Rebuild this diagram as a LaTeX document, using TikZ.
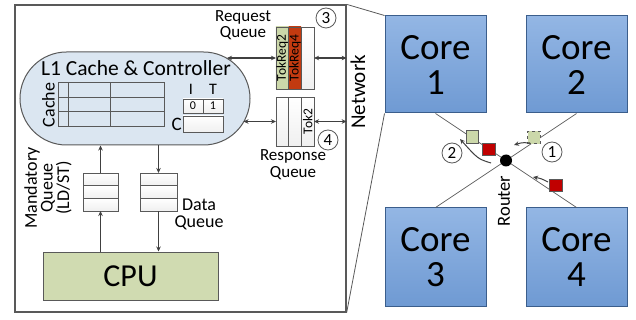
\documentclass[tikz,border=0pt]{standalone}
\usepackage{fontspec}
\setmainfont{Carlito}
\usetikzlibrary{arrows.meta,shapes.misc,calc}

\definecolor{edgegray}{HTML}{595959}
\definecolor{arrgray}{HTML}{404040}
\definecolor{coreTop}{HTML}{93B6E4}
\definecolor{coreBot}{HTML}{6F9AD3}
\definecolor{coreEdge}{HTML}{3B5E8C}
\definecolor{lonefill}{HTML}{DBE6F1}
\definecolor{cpufill}{HTML}{D0DBB1}
\definecolor{tokgreen}{HTML}{CCD8AA}
\definecolor{tokred}{HTML}{C23A10}
\definecolor{pktred}{HTML}{C00000}

\tikzset{
  fs/.style={font=\fontsize{#1}{#1}\selectfont},
  cell/.style={draw=edgegray, line width=0.8pt, top color=white, bottom color=gray!12,
               inner sep=0pt, outer sep=0pt, minimum width=#1},
  arr/.style={draw=arrgray, line width=1.2pt, -{Stealth[length=5pt,width=4.5pt]}},
  dbl/.style={draw=arrgray, line width=1.2pt, {Stealth[length=5pt,width=4.5pt]}-{Stealth[length=5pt,width=4.5pt]}},
  corebox/.style={draw=coreEdge, line width=1pt, top color=coreTop, bottom color=coreBot,
                  minimum width=101pt, minimum height=97pt, inner sep=0pt, align=center,
                  font=\fontsize{37}{35}\selectfont},
  pkt/.style={draw=edgegray, line width=0.6pt, minimum size=12.5pt, inner sep=0pt},
  num/.style={circle, draw=edgegray, line width=0.8pt, fill=white, minimum size=20pt,
              inner sep=0pt, font=\fontsize{17}{17}\selectfont},
  thin/.style={draw=edgegray, line width=0.8pt},
  twoline/.style={align=center, inner sep=0pt, font=\fontsize{17}{16.5}\selectfont},
}

\begin{document}
\begin{tikzpicture}[x=1pt,y=-1pt]
\useasboundingbox (0,0) rectangle (636,320);

% ---------------- one tile ----------------
\node[draw=edgegray, line width=1.3pt, minimum width=331pt, minimum height=307pt,
      inner sep=0pt] (chip) at (180.5,158.5) {};

% L1 cache and controller
\node[rounded rectangle, draw=edgegray, line width=1pt, fill=lonefill,
      minimum width=230pt, minimum height=93pt, inner sep=0pt] (l1) at (135,98.5) {};
\node[fs=21.5] (l1txt) at (136,68.5) {L1 Cache \& Controller};

% cache array
\node[draw=edgegray, line width=1pt, minimum width=106pt, minimum height=44pt,
      inner sep=0pt] (ctab) at (111,105) {};
\draw[thin, line width=1pt] (58,98) -- (164,98) (58,112) -- (164,112)
      (68,83) -- (68,127) (110,83) -- (110,127);
\node[fs=18, rotate=90] (ctablbl) at (48.5,105) {Cache};

% I / T bits and C field
\node[cell=20pt, minimum height=14pt, fs=12] (bitI) at (193,106) {0};
\node[cell=20pt, minimum height=14pt, fs=12] (bitT) at (213,106) {1};
\node[fs=16] (lblI) at (191,89) {I};
\node[fs=16] (lblT) at (213,89) {T};
\node[cell=40pt, minimum height=16pt] (cfld) at (203,124) {};
\node[fs=19, anchor=east, inner sep=0pt] (lblC) at (182,124.5) {C};

% request queue
\node[cell=12.67pt, minimum height=62pt, top color=tokgreen, bottom color=tokgreen] (rq1) at (282.3,58) {};
\node[cell=12.67pt, minimum height=62pt, top color=tokred, bottom color=tokred] (rq2) at (295,58) {};
\node[cell=12.67pt, minimum height=62pt] (rq3) at (307.7,58) {};
\node[fs=13.5, rotate=90] (rq1t) at (rq1.center) {TokReq2};
\node[fs=13.5, rotate=90] (rq2t) at (rq2.center) {TokReq4};
\node[twoline] (rqlbl) at (243,25) {Request\\Queue};
\node[num] (n3) at (326,18) {3};

% response queue
\node[cell=12.67pt, minimum height=49pt] (sq1) at (282.3,121.5) {};
\node[cell=12.67pt, minimum height=49pt] (sq2) at (295,121.5) {};
\node[cell=12.67pt, minimum height=49pt] (sq3) at (307.7,121.5) {};
\node[fs=13.5, rotate=90] (sq3t) at (sq3.center) {Tok2};
\node[twoline] (sqlbl) at (293,164.5) {Response\\Queue};
\node[num] (n4) at (328,140) {4};

\node[fs=21, rotate=90] (netlbl) at (358,92) {Network};

% controller <-> queues <-> network
\coordinate (l1req) at (227,58);
\coordinate (l1rsp) at (243.5,121.5);
\draw[dbl] (l1req) -- (rq1.west);
\draw[dbl] (rq3.east) -- (rq3.east -| chip.east);
\draw[dbl] (l1rsp) -- (sq1.west);
\draw[dbl] (sq3.east) -- (sq3.east -| chip.east);

% mandatory queue and data queue
\node[cell=35pt, minimum height=12.67pt] (mq1) at (100.5,179.3) {};
\node[cell=35pt, minimum height=12.67pt] (mq2) at (100.5,192) {};
\node[cell=35pt, minimum height=12.67pt] (mq3) at (100.5,204.7) {};
\node[cell=37pt, minimum height=12.67pt] (dq1) at (158.5,179.3) {};
\node[cell=37pt, minimum height=12.67pt] (dq2) at (158.5,192) {};
\node[cell=37pt, minimum height=12.67pt] (dq3) at (158.5,204.7) {};
\node[rotate=90, align=center, font=\fontsize{18}{14}\selectfont] (mqlbl) at (48,188) {Mandatory\\Queue\\(LD/ST)};
\node[align=center, font=\fontsize{18}{17}\selectfont] (dqlbl) at (199,214) {Data\\Queue};

% CPU
\node[draw=edgegray, line width=1pt, fill=cpufill, minimum width=175pt, minimum height=48pt,
      inner sep=0pt, fs=32] (cpu) at (130.5,276) {CPU};

\draw[arr] (cpu.north -| mq3.south) -- (mq3.south);
\draw[arr] (mq1.north) -- (mq1.north |- l1.south);
\draw[arr] (l1.south -| dq1.north) -- (dq1.north);
\draw[arr] (dq3.south) -- (dq3.south |- cpu.north);

% ---------------- four cores around a router ----------------
\node[corebox] (core1) at (435.5,64.5) {Core\\1};
\node[corebox] (core2) at (576.5,64.5) {Core\\2};
\node[corebox, minimum height=98pt] (core3) at (435.5,257) {Core\\3};
\node[corebox, minimum height=98pt] (core4) at (576.5,257) {Core\\4};

% zoom lines from the tile to core 1
\draw[thin] (chip.north east) -- (core1.north west);
\draw[thin] (chip.south east) -- (core1.south west);

\coordinate (xc) at ($(core1.south)!0.5!(core4.north)$);
\draw[thin, line width=0.7pt] (core1.south) -- (core4.north);
\draw[thin, line width=0.7pt] (core2.south) -- (core3.north);
\node[circle, fill=black, minimum size=12pt, inner sep=0pt] (router) at (xc) {};
\node[fs=18.5, rotate=90] (rtlbl) at (504,201) {Router};

% packets in flight
\node[pkt, fill=tokgreen] (pA) at (472.5,137) {};
\node[pkt, fill=pktred] (pB) at (489,149.5) {};
\node[pkt, fill=tokgreen, dashed] (pC) at (534,137.5) {};
\node[pkt, fill=pktred] (pD) at (556,185.5) {};

\coordinate (a1s) at (491,163);
\coordinate (a1e) at (460,139);
\draw[arr, line width=1pt] (a1s) .. controls (478,159) .. (a1e);
\coordinate (a2s) at (530,143);
\coordinate (a2e) at (514,145);
\draw[arr, line width=1pt] (a2s) .. controls (522,142.5) .. (a2e);
\coordinate (a3s) at (548,182);
\coordinate (a3e) at (533,177);
\draw[arr, line width=1pt] (a3s) .. controls (541,178.5) .. (a3e);

\node[num] (n2) at (452,153) {2};
\node[num] (n1) at (552,152) {1};
\end{tikzpicture}
\end{document}
